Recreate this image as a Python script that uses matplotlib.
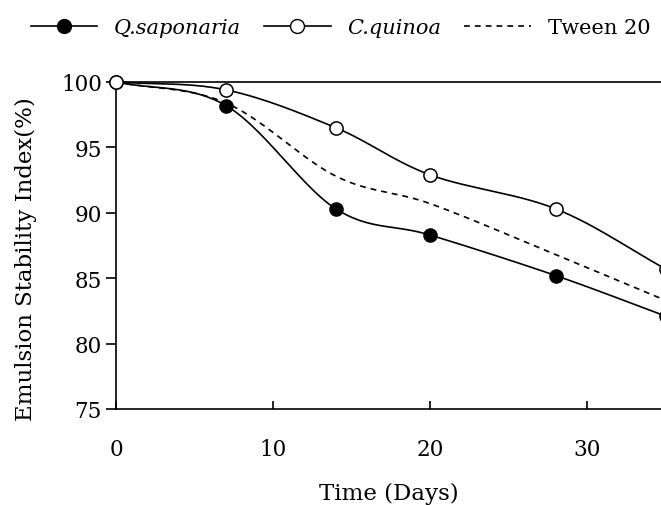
import numpy as np
import matplotlib
matplotlib.use("Agg")
import matplotlib.pyplot as plt
from matplotlib.lines import Line2D

# Data
days = [0, 7, 14, 20, 28, 35]
q_saponaria = [100.0, 98.2, 90.3, 88.3, 85.2, 82.1]
c_quinoa = [100.0, 99.4, 96.5, 92.9, 90.3, 85.7]
tween20 = [100.0, 98.4, 92.8, 90.7, 86.8, 83.3]
series_labels = ["Q.saponaria", "C.quinoa", "Tween 20"]


def smooth(x, y, n=30):
    """Catmull-Rom style smoothing, like the spreadsheet 'smoothed line'."""
    x = np.asarray(x, float)
    y = np.asarray(y, float)
    px = np.concatenate([[2 * x[0] - x[1]], x, [2 * x[-1] - x[-2]]])
    py = np.concatenate([[2 * y[0] - y[1]], y, [2 * y[-1] - y[-2]]])
    xs, ys = [], []
    t = np.linspace(0, 1, n)
    for i in range(1, len(px) - 2):
        p0, p1, p2, p3 = (np.array([px[j], py[j]]) for j in range(i - 1, i + 3))
        c1 = p1 + (p2 - p0) / 6
        c2 = p2 - (p3 - p1) / 6
        seg = ((1 - t) ** 3)[:, None] * p1 + (3 * (1 - t) ** 2 * t)[:, None] * c1 \
            + (3 * (1 - t) * t ** 2)[:, None] * c2 + (t ** 3)[:, None] * p2
        xs.append(seg[:, 0])
        ys.append(seg[:, 1])
    return np.concatenate(xs), np.concatenate(ys)


plt.rcParams["font.family"] = ["DejaVu Serif"]

fig = plt.figure(figsize=(6.61, 5.06), dpi=100)
ax = fig.add_axes([116 / 661, 96 / 506, 545 / 661, 327 / 506])

lw = 1.2
dash = (0, (3.5, 3))
xs, ys = smooth(days, tween20)
ax.plot(xs, ys, color="black", lw=lw, ls=dash, clip_on=False)

xs, ys = smooth(days, q_saponaria)
ax.plot(xs, ys, color="black", lw=lw, clip_on=False)
ax.plot(days, q_saponaria, ls="none", marker="o", ms=9.5, mfc="black", mec="black", clip_on=False)

xs, ys = smooth(days, c_quinoa)
ax.plot(xs, ys, color="black", lw=lw, clip_on=False)
ax.plot(days, c_quinoa, ls="none", marker="o", ms=9.5, mfc="white", mec="black", mew=1.1,
        clip_on=False, zorder=5)

ax.set_xlim(0, 34.7)
ax.set_ylim(75, 100)
ax.set_xticks([0, 10, 20, 30])
ax.set_yticks([75, 80, 85, 90, 95, 100])
ax.spines["right"].set_visible(False)
for s in ["left", "bottom", "top"]:
    ax.spines[s].set_linewidth(1.2)
ax.tick_params(axis="y", direction="out", length=7, width=1.2, labelsize=15.5, pad=3)
ax.tick_params(axis="x", direction="in", length=6, width=1.2, labelsize=15.5, pad=21)
ax.set_xlabel("Time (Days)", fontsize=16.5, labelpad=16)
ax.set_ylabel("Emulsion Stability Index(%)", fontsize=16.5)
ax.yaxis.set_label_coords(-0.145, 0.46)

handles = [
    Line2D([], [], color="black", lw=lw, marker="o", ms=10, mfc="black", mec="black"),
    Line2D([], [], color="black", lw=lw, marker="o", ms=10, mfc="white", mec="black"),
    Line2D([], [], color="black", lw=lw, ls=dash),
]
leg = fig.legend(handles, series_labels, loc="center", bbox_to_anchor=(0.515, 1 - 29 / 506), ncol=3,
                 frameon=False, fontsize=15, handlelength=3.2, columnspacing=1.1, handletextpad=0.8)
for txt in leg.get_texts()[:2]:
    txt.set_fontstyle("italic")

fig.savefig("out.png", dpi=100)
